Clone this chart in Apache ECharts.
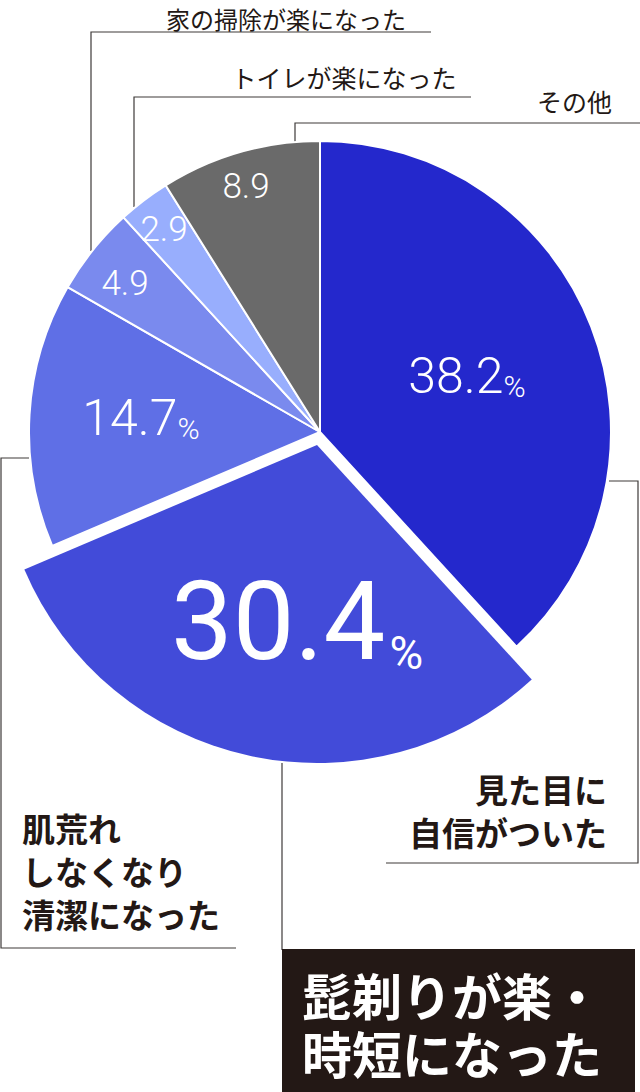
<!DOCTYPE html>
<html lang="ja">
<head>
<meta charset="utf-8">
<title>円グラフ</title>
<script src="https://cdn.jsdelivr.net/npm/echarts@6/dist/echarts.min.js"></script>
<style>
  html, body { margin: 0; padding: 0; background: #fff; }
  #chart { width: 640px; height: 1092px; }
</style>
</head>
<body>
<div id="chart"></div>
<script>
// 項目名（改行はラベル表示用）
const categories = [
  '見た目に\n自信がついた',
  '髭剃りが楽・\n時短になった',
  '肌荒れ\nしなくなり\n清潔になった',
  '家の掃除が楽になった',
  'トイレが楽になった',
  'その他'
]
// 割合（%）
const values = [38.2, 30.4, 14.7, 4.9, 2.9, 8.9]
// 切り出して強調する項目
const pickedIndex = 1

const colors = ['#2428cc', '#424bd9', '#5f6fe6', '#7a8aee', '#98aefd', '#6a6a6a']
const numFont = 'Roboto, "Noto Sans", sans-serif'
const jpFont = '"Noto Sans CJK JP", sans-serif'
const lineColor = '#3e3a39'
// 値ラベルの位置（中心）
const valueLabelPos = [[467, 376], [297, 621], [141, 418], [125, 283], [164, 229], [246, 186]]

/* 値ラベル：10%以上は「%」付き */
function valueLabel(params) {
  if (params.dataIndex === pickedIndex) return `{big|${params.value}}{bigPct|%}`
  if (params.value >= 10) return `{mid|${params.value}}{midPct|%}`
  return `{small|${params.value}}`
}

function labelLayout(params) {
  const pos = valueLabelPos[params.dataIndex]
  return { x: pos[0], y: pos[1], align: 'center', verticalAlign: 'middle' }
}

const rich = {
  big: { fontFamily: numFont, fontSize: 110, lineHeight: 110, fontWeight: 400, color: '#fff' },
  bigPct: { fontFamily: numFont, fontSize: 46, lineHeight: 72, verticalAlign: 'bottom', color: '#fff', padding: [0, 0, 0, 4] },
  mid: { fontFamily: numFont, fontSize: 50, lineHeight: 50, fontWeight: 300, color: '#fff' },
  midPct: { fontFamily: numFont, fontSize: 30, lineHeight: 38, verticalAlign: 'bottom', fontWeight: 300, color: '#fff' },
  small: { fontFamily: numFont, fontSize: 35, lineHeight: 35, fontWeight: 300, color: '#fff' }
}

/* 通常の円（強調項目は透明にしておく） */
const baseData = values.map((v, i) => ({
  name: categories[i],
  value: v,
  itemStyle: i === pickedIndex
    ? { color: 'rgba(0,0,0,0)', borderWidth: 0 }
    : { color: colors[i] },
  label: { show: i !== pickedIndex }
}))

/* 切り出した扇形（強調項目のみ表示） */
const pickedData = values.map((v, i) => ({
  name: categories[i],
  value: v,
  itemStyle: i === pickedIndex
    ? { color: colors[i] }
    : { color: 'rgba(0,0,0,0)', borderWidth: 0 },
  label: { show: i === pickedIndex }
}))

const chart = echarts.init(document.getElementById('chart'), null, { renderer: 'svg' })
chart.setOption({
  backgroundColor: '#fff',
  animation: false,
  series: [
    {
      type: 'pie',
      center: [320, 432],
      radius: 291,
      startAngle: 90,
      clockwise: true,
      avoidLabelOverlap: false,
      silent: true,
      itemStyle: { borderColor: '#fff', borderWidth: 2 },
      label: { position: 'inside', formatter: valueLabel, rich: rich },
      labelLine: { show: false },
      labelLayout: labelLayout,
      data: baseData
    },
    {
      type: 'pie',
      center: [317, 445],
      radius: 318,
      startAngle: 90,
      clockwise: true,
      avoidLabelOverlap: false,
      silent: true,
      itemStyle: { borderColor: '#fff', borderWidth: 0 },
      label: { position: 'inside', formatter: valueLabel, rich: rich },
      labelLine: { show: false },
      labelLayout: labelLayout,
      data: pickedData
    }
  ],
  /* 引き出し線と項目名 */
  graphic: [
    { type: 'polyline', shape: { points: [[431, 32], [91, 32], [91, 251]] }, style: { stroke: lineColor, lineWidth: 1.2, fill: null } },
    { type: 'polyline', shape: { points: [[471, 97], [134, 97], [134, 207]] }, style: { stroke: lineColor, lineWidth: 1.2, fill: null } },
    { type: 'polyline', shape: { points: [[640, 123], [295, 123], [295, 142]] }, style: { stroke: lineColor, lineWidth: 1.2, fill: null } },
    { type: 'polyline', shape: { points: [[609, 481], [638, 481], [638, 863], [386, 863]] }, style: { stroke: lineColor, lineWidth: 1.2, fill: null } },
    { type: 'polyline', shape: { points: [[29, 458], [1, 458], [1, 948], [236, 948]] }, style: { stroke: lineColor, lineWidth: 1.2, fill: null } },
    { type: 'polyline', shape: { points: [[282, 763], [282, 950]] }, style: { stroke: lineColor, lineWidth: 1.2, fill: null } },
    { type: 'rect', shape: { x: 282, y: 949, width: 353, height: 143 }, style: { fill: '#231815' } },
    {
      type: 'text', x: 286, y: 18,
      style: { text: categories[3], fill: '#231815', fontFamily: jpFont, fontSize: 24, align: 'center', verticalAlign: 'middle' }
    },
    {
      type: 'text', x: 344, y: 77,
      style: { text: categories[4], fill: '#231815', fontFamily: jpFont, fontSize: 25, align: 'center', verticalAlign: 'middle' }
    },
    {
      type: 'text', x: 612, y: 101,
      style: { text: categories[5], fill: '#231815', fontFamily: jpFont, fontSize: 25, align: 'right', verticalAlign: 'middle' }
    },
    {
      type: 'text', x: 607, y: 810,
      style: { text: categories[0], fill: '#231815', fontFamily: jpFont, fontSize: 33, fontWeight: 'bold', lineHeight: 43, align: 'right', verticalAlign: 'middle' }
    },
    {
      type: 'text', x: 22, y: 871,
      style: { text: categories[2], fill: '#231815', fontFamily: jpFont, fontSize: 33, fontWeight: 'bold', lineHeight: 43, align: 'left', verticalAlign: 'middle' }
    },
    {
      type: 'text', x: 302, y: 1023,
      style: { text: categories[1], fill: '#fff', fontFamily: jpFont, fontSize: 50, fontWeight: 'bold', lineHeight: 58, align: 'left', verticalAlign: 'middle' }
    }
  ]
})
</script>
</body>
</html>
